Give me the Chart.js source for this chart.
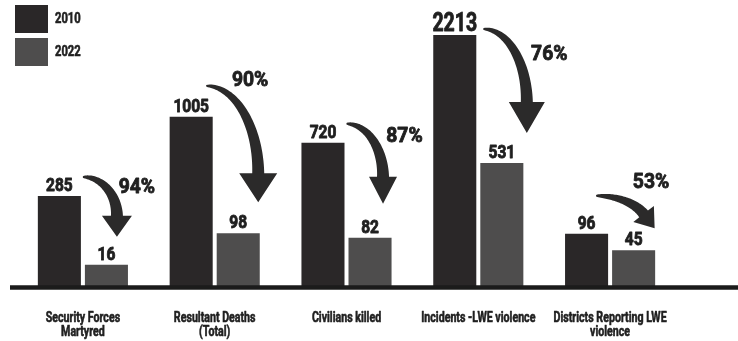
<!DOCTYPE html>
<html>
<head>
<meta charset="utf-8">
<title>LWE violence 2010 vs 2022</title>
<script src="https://cdn.jsdelivr.net/npm/chart.js@4.4.0/dist/chart.umd.min.js"></script>
<style>
  html, body { margin: 0; padding: 0; background: #fff; }
  canvas { display: block; }
</style>
</head>
<body>
<canvas id="lweChart" width="738" height="341"></canvas>
<script>
// Data
const categories = [
  ['Security Forces', 'Martyred'],
  ['Resultant Deaths', '(Total)'],
  'Civilians killed',
  'Incidents -LWE violence',
  ['Districts Reporting LWE', 'violence']
];
const years = ['2010', '2022'];
const values2010 = [285, 1005, 720, 2213, 96];
const values2022 = [16, 98, 82, 531, 45];
const reductionLabels = ['94%', '90%', '87%', '76%', '53%'];

// Look
const FONT = "Roboto, 'DejaVu Sans', sans-serif";
const colors = {
  dark: '#2a2728',
  grey: '#4e4d4d',
  arrow: '#2b2a2a',
  text: '#1f1f1f'
};

// Arrow placement: tail is offset from the top of the 2010 bar, tip from the top of the 2022 bar,
// the percentage sits relative to the tail
const arrowLayout = [
  { tail: [23.5, -19], tip: [10.5, -28], endDeg: 0,   head: 21, half: 15, shaft: 12, pct: [54, 16] },
  { tail: [15, -31],   tip: [20, -31],   endDeg: 0,   head: 29, half: 19, shaft: 12, pct: [44, 0] },
  { tail: [23.5, -19], tip: [13, -34],   endDeg: 0,   head: 27, half: 14, shaft: 12, pct: [58, 18] },
  { tail: [28.5, -6],  tip: [25, -30],   endDeg: 0,   head: 31, half: 18, shaft: 12, pct: [66, 31] },
  { tail: [9.5, -38],  tip: [21, -22],   endDeg: -25, head: 18, half: 13, shaft: 11, pct: [55, -8] }
];

// Square-root value axis so the small counts stay visible next to the big ones
class SqrtScale extends Chart.LinearScale {
  getPixelForValue(value) {
    if (value === null || value === undefined) return NaN;
    const lo = Math.sqrt(Math.max(this.min, 0));
    const hi = Math.sqrt(this.max);
    return this.getPixelForDecimal((Math.sqrt(Math.max(value, 0)) - lo) / (hi - lo));
  }
  getValueForPixel(pixel) {
    const lo = Math.sqrt(Math.max(this.min, 0));
    const hi = Math.sqrt(this.max);
    const s = lo + this.getDecimalForPixel(pixel) * (hi - lo);
    return s * s;
  }
}
SqrtScale.id = 'sqrt';
SqrtScale.defaults = Chart.LinearScale.defaults;
Chart.register(SqrtScale);

// Bold text squeezed horizontally (and lightly stroked) for the heavy narrow poster look
function narrowText(ctx, text, x, y, size, squeeze) {
  ctx.save();
  ctx.font = `bold ${size}px ${FONT}`;
  ctx.translate(x, y);
  ctx.scale(squeeze, 1);
  ctx.strokeStyle = ctx.fillStyle;
  ctx.lineWidth = size > 16 ? 0.9 : 0.6;
  ctx.lineJoin = 'round';
  ctx.strokeText(text, 0, 0);
  ctx.fillText(text, 0, 0);
  ctx.restore();
}

function drawCurvedArrow(ctx, tailX, tailY, tipX, tipY, a) {
  const end = a.endDeg * Math.PI / 180;
  const start = -Math.PI / 2;
  // solve the quarter-ellipse radii so the head lands on the tip
  let dx = Math.sin(-end), dy = Math.cos(end);
  let rx = 40, ry = 40;
  for (let k = 0; k < 20; k++) {
    const ex = tipX - dx * a.head, ey = tipY - dy * a.head;
    rx = (ex - tailX) / Math.cos(end);
    ry = (ey - tailY) / (1 + Math.sin(end));
    const tx = -rx * Math.sin(end), ty = ry * Math.cos(end);
    const l = Math.hypot(tx, ty);
    dx = tx / l; dy = ty / l;
  }
  const cx = tailX, cy = tailY + ry;
  const steps = 48;
  const outer = [], inner = [];
  for (let s = 0; s <= steps; s++) {
    const t = s / steps;
    const th = start + (end - start) * t;
    const px = cx + rx * Math.cos(th), py = cy + ry * Math.sin(th);
    let nx = Math.cos(th) / rx, ny = Math.sin(th) / ry;
    const nl = Math.hypot(nx, ny);
    nx /= nl; ny /= nl;
    const w = (1.5 + (a.shaft - 1.5) * Math.pow(t, 0.6)) / 2;
    outer.push([px + nx * w, py + ny * w]);
    inner.push([px - nx * w, py - ny * w]);
  }
  const ex = cx + rx * Math.cos(end), ey = cy + ry * Math.sin(end);
  const qx = -dy, qy = dx;
  ctx.beginPath();
  outer.forEach(([x, y], i) => (i ? ctx.lineTo(x, y) : ctx.moveTo(x, y)));
  ctx.lineTo(ex - qx * a.half, ey - qy * a.half);
  ctx.lineTo(ex + dx * a.head, ey + dy * a.head);
  ctx.lineTo(ex + qx * a.half, ey + qy * a.half);
  for (let i = inner.length - 1; i >= 0; i--) ctx.lineTo(inner[i][0], inner[i][1]);
  ctx.closePath();
  ctx.fillStyle = colors.arrow;
  ctx.fill();
}

// Thick ground line, category names, value labels, arrows and percentages
const annotations = {
  id: 'annotations',
  afterDatasetsDraw(chart) {
    const ctx = chart.ctx;
    const area = chart.chartArea;
    const xScale = chart.scales.x;
    const before = chart.getDatasetMeta(0).data;
    const after = chart.getDatasetMeta(1).data;
    const maxValue = Math.max(...values2010, ...values2022);

    ctx.save();
    ctx.strokeStyle = '#1b1b1b';
    ctx.lineWidth = 4.5;
    ctx.beginPath();
    ctx.moveTo(10, area.bottom + 1.5);
    ctx.lineTo(chart.width, area.bottom + 1.5);
    ctx.stroke();

    ctx.fillStyle = colors.text;
    ctx.textAlign = 'center';
    ctx.textBaseline = 'alphabetic';

    chart.data.labels.forEach((label, i) => {
      const lines = Array.isArray(label) ? label : [label];
      const x = xScale.getPixelForTick(i);
      lines.forEach((line, j) => narrowText(ctx, line, x, area.bottom + 36 + j * 13.5, 14, 0.76));
    });

    chart.data.datasets.forEach((ds, d) => {
      chart.getDatasetMeta(d).data.forEach((bar, i) => {
        const v = ds.data[i];
        if (v === maxValue) narrowText(ctx, String(v), bar.x, bar.y - 4, 25, 0.78);
        else narrowText(ctx, String(v), bar.x, bar.y - 5, 18, 0.86);
      });
    });

    arrowLayout.forEach((a, i) => {
      const tailX = before[i].x + a.tail[0], tailY = before[i].y + a.tail[1];
      const tipX = after[i].x + a.tip[0], tipY = after[i].y + a.tip[1];
      drawCurvedArrow(ctx, tailX, tailY, tipX, tipY, a);
      ctx.fillStyle = colors.text;
      narrowText(ctx, reductionLabels[i], tailX + a.pct[0], tailY + a.pct[1], 21, 0.92);
    });
    ctx.restore();
  }
};

// Stacked legend in the top-left corner
const cornerLegend = {
  id: 'cornerLegend',
  afterDraw(chart) {
    const ctx = chart.ctx;
    ctx.save();
    chart.data.datasets.forEach((ds, i) => {
      const y = 5 + i * 33;
      ctx.fillStyle = ds.backgroundColor;
      ctx.fillRect(15, y, 33, 28);
      ctx.fillStyle = colors.text;
      ctx.textAlign = 'left';
      ctx.textBaseline = 'alphabetic';
      narrowText(ctx, ds.label, 55, y + 18, 14, 0.8);
    });
    ctx.restore();
  }
};

new Chart(document.getElementById('lweChart'), {
  type: 'bar',
  data: {
    labels: categories,
    datasets: [
      { label: years[0], data: values2010, backgroundColor: colors.dark },
      { label: years[1], data: values2022, backgroundColor: colors.grey }
    ]
  },
  options: {
    responsive: false,
    devicePixelRatio: 1,
    animation: false,
    layout: { padding: { left: 17, right: 62, top: 35, bottom: 0 } },
    datasets: {
      bar: { categoryPercentage: 0.714, barPercentage: 0.915 }
    },
    plugins: {
      legend: { display: false },
      tooltip: { enabled: false }
    },
    scales: {
      x: {
        grid: { display: false, drawTicks: false },
        border: { display: false },
        ticks: { display: false },
        afterFit(scale) { scale.height = 55; }
      },
      y: {
        type: 'sqrt',
        min: 0,
        max: 2213,
        display: false
      }
    }
  },
  plugins: [annotations, cornerLegend]
});
</script>
</body>
</html>
